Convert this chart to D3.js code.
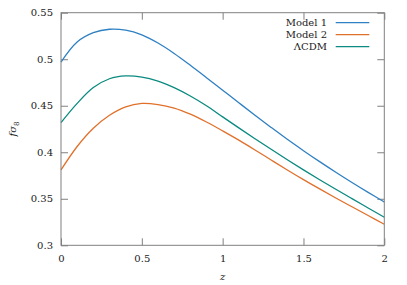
<!DOCTYPE html>
<html>
<head>
<meta charset="utf-8">
<script src="https://cdn.jsdelivr.net/npm/d3@7"></script>
<style>
    body { margin: 0; background: #fff; }
    svg text { font-family: "DejaVu Serif", "Liberation Serif", serif; font-size: 10px; fill: #222; }
</style>
</head>
<body>
<svg id="chart1" width="407" height="285"></svg>
<script>
// redshift grid
const zs = [0, 0.1, 0.2, 0.3, 0.4, 0.5, 0.6, 0.7, 0.8, 0.9, 1.0,
            1.1, 1.2, 1.3, 1.4, 1.5, 1.6, 1.7, 1.8, 1.9, 2.0]

const model1 = [0.497, 0.5185, 0.5285, 0.5322, 0.5312, 0.5262, 0.5174, 0.5062, 0.4935, 0.4802, 0.4667,
                0.4532, 0.4398, 0.4267, 0.4139, 0.4017, 0.3899, 0.3785, 0.3675, 0.3569, 0.3466]
const model2 = [0.381, 0.4062, 0.4258, 0.4398, 0.4488, 0.4525, 0.4513, 0.4475, 0.4410, 0.4325, 0.4230,
                0.4130, 0.4025, 0.3917, 0.3810, 0.3706, 0.3606, 0.3509, 0.3414, 0.3320, 0.3226]
const lcdm   = [0.4318, 0.4525, 0.4695, 0.4790, 0.4820, 0.4808, 0.4765, 0.4695, 0.4605, 0.4500, 0.4380,
                0.4262, 0.4146, 0.4032, 0.3920, 0.3811, 0.3705, 0.3602, 0.3501, 0.3401, 0.3301]

const seriesNames = ['Model 1', 'Model 2', 'ΛCDM']
const seriesValues = [model1, model2, lcdm]
const strokeColors = ['#2e80c3', '#e0702a', '#0a8a80']

const xTicks = [0, 0.5, 1, 1.5, 2]
const xTickLabels = ['0', '0.5', '1', '1.5', '2']
const yTicks = [0.3, 0.35, 0.4, 0.45, 0.5, 0.55]
const yTickLabels = ['0.3', '0.35', '0.4', '0.45', '0.5', '0.55']

const svg = d3.select('#chart1')
const pLeft = 61, pRight = 384.3, pTop = 12.7, pBottom = 245.3
const tickLen = 7, frameColor = '#808080'

const xScale = d3.scaleLinear().domain([0, 2]).range([pLeft, pRight])
const yScale = d3.scaleLinear().domain([0.3, 0.55]).range([pBottom, pTop])

/**
 * inner ticks on all four sides, labels only bottom/left
 */
const axisStyle = g => {
    g.select('.domain').remove()
    g.selectAll('.tick line').attr('stroke', frameColor).attr('stroke-width', 1)
    g.selectAll('.tick text').attr('fill', '#222').style('font-family', '"DejaVu Serif", serif').style('font-size', '10px')
}

svg.append('g')
    .attr('transform', `translate(0,${pBottom})`)
    .call(d3.axisBottom(xScale).tickValues(xTicks).tickFormat((d, i) => xTickLabels[i])
        .tickSizeInner(-tickLen).tickSizeOuter(0).tickPadding(10))
    .call(axisStyle)
svg.append('g')
    .attr('transform', `translate(0,${pTop})`)
    .call(d3.axisTop(xScale).tickValues(xTicks).tickFormat('')
        .tickSizeInner(-tickLen).tickSizeOuter(0))
    .call(axisStyle)
svg.append('g')
    .attr('transform', `translate(${pLeft},0)`)
    .call(d3.axisLeft(yScale).tickValues(yTicks).tickFormat((d, i) => yTickLabels[i])
        .tickSizeInner(-tickLen).tickSizeOuter(0).tickPadding(8))
    .call(axisStyle)
svg.append('g')
    .attr('transform', `translate(${pRight},0)`)
    .call(d3.axisRight(yScale).tickValues(yTicks).tickFormat('')
        .tickSizeInner(-tickLen).tickSizeOuter(0))
    .call(axisStyle)

// curves
const line = d3.line()
    .x((d, j) => xScale(zs[j]))
    .y(d => yScale(d))
    .curve(d3.curveCatmullRom.alpha(0.5))

seriesValues.forEach((vals, i) => {
    svg.append('path')
        .datum(vals)
        .attr('d', line)
        .attr('fill', 'none')
        .attr('stroke', strokeColors[i])
        .attr('stroke-width', 1.3)
})

// frame
svg.append('rect')
    .attr('x', pLeft).attr('y', pTop)
    .attr('width', pRight - pLeft).attr('height', pBottom - pTop)
    .attr('fill', 'none')
    .attr('stroke', frameColor)
    .attr('stroke-width', 1)

// legend
const legend = svg.append('g')
seriesNames.forEach((name, i) => {
    let y = 22.7 + i * 12
    legend.append('text')
        .attr('x', 327).attr('y', y + 3.6)
        .attr('text-anchor', 'end')
        .text(name)
    legend.append('line')
        .attr('x1', 335.7).attr('x2', 369.3)
        .attr('y1', y).attr('y2', y)
        .attr('stroke', strokeColors[i])
        .attr('stroke-width', 1.3)
})

// axis titles
svg.append('text')
    .attr('x', xScale(1)).attr('y', 279.5)
    .attr('text-anchor', 'middle')
    .style('font-style', 'italic')
    .text('z')

const yl = svg.append('text')
    .attr('transform', 'translate(16,129) rotate(-90)')
    .attr('text-anchor', 'middle')
yl.append('tspan').style('font-style', 'italic').text('fσ')
yl.append('tspan').attr('dy', 2.5).style('font-size', '7px').text('8')
</script>
</body>
</html>
